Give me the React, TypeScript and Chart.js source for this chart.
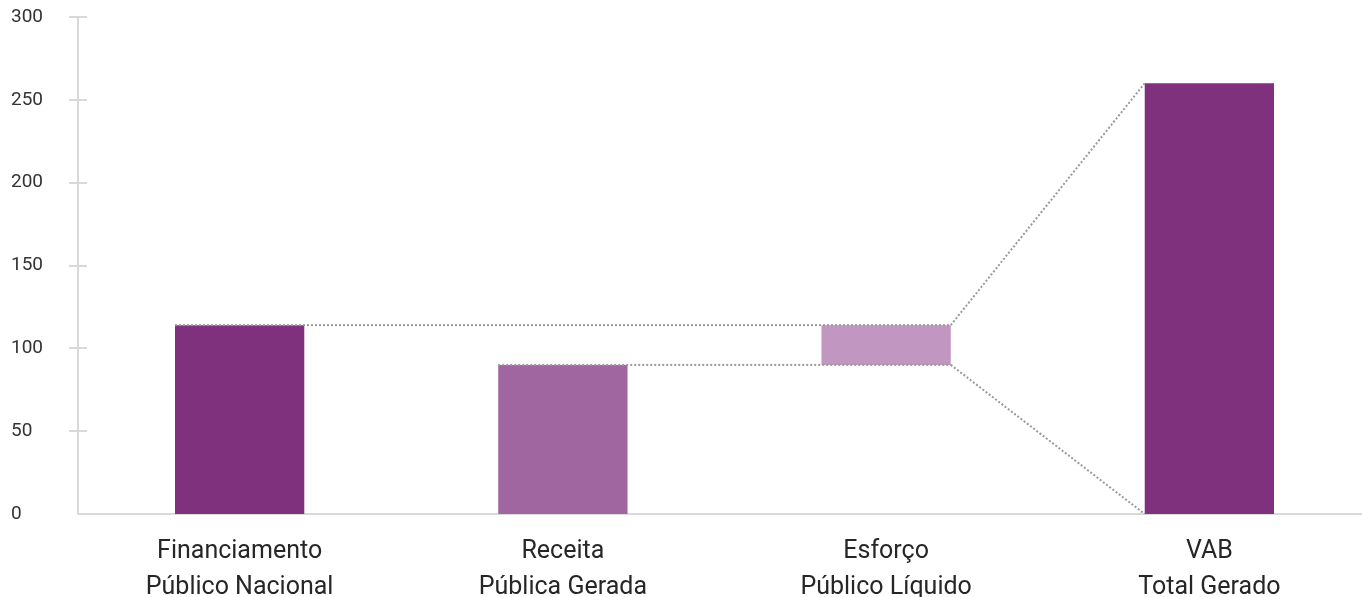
import React, { useEffect, useRef } from "react";
import { Chart, registerables } from "chart.js";

Chart.register(...registerables);

const categories: string[][] = [
  ["Financiamento", "Público Nacional"],
  ["Receita", "Pública Gerada"],
  ["Esforço", "Público Líquido"],
  ["VAB", "Total Gerado"],
];
const financiamento = 114;
const receita = 90;
const vab = 260;
const barRanges: [number, number][] = [
  [0, financiamento],
  [0, receita],
  [receita, financiamento],
  [0, vab],
];
const barColors = ["#7F317E", "#A066A0", "#C197C1", "#7F317E"];
const yTicks = { min: 0, max: 300, step: 50 };

const AXIS_COLOR = "#D9D9D9";
const FONT = "Roboto, 'Open Sans', sans-serif";

const connectorPlugin = {
  id: "connectors",
  afterDatasetsDraw(chart: any) {
    const meta = chart.getDatasetMeta(0);
    const y = chart.scales.y;
    const els = meta.data;
    if (els.length < 4) return;
    const left = (e: any) => e.x - e.width / 2;
    const right = (e: any) => e.x + e.width / 2;
    const ctx = chart.ctx;
    ctx.save();
    ctx.strokeStyle = "#9A9A9A";
    ctx.lineWidth = 2;
    ctx.setLineDash([2, 2]);
    const seg = (x1: number, y1: number, x2: number, y2: number) => {
      ctx.beginPath();
      ctx.moveTo(x1, y1);
      ctx.lineTo(x2, y2);
      ctx.stroke();
    };
    const yF = y.getPixelForValue(financiamento);
    const yR = y.getPixelForValue(receita);
    seg(left(els[0]), yF, right(els[2]), yF);
    seg(left(els[1]), yR, right(els[2]), yR);
    seg(right(els[2]), yF, left(els[3]), y.getPixelForValue(vab));
    seg(right(els[2]), yR, left(els[3]), y.getPixelForValue(0));
    ctx.restore();
  },
  afterDraw(chart: any) {
    const y = chart.scales.y;
    const ctx = chart.ctx;
    const x0 = chart.chartArea.left;
    ctx.save();
    ctx.strokeStyle = AXIS_COLOR;
    ctx.lineWidth = 2;
    y.ticks.forEach((t: any) => {
      const py = Math.round(y.getPixelForValue(t.value));
      if (t.value === yTicks.min) return;
      ctx.beginPath();
      ctx.moveTo(x0 - 9, py);
      ctx.lineTo(x0 + 9, py);
      ctx.stroke();
    });
    ctx.restore();
  },
};

export default function App() {
  const ref = useRef<HTMLCanvasElement>(null);
  useEffect(() => {
    if (!ref.current) return;
    const chart = new Chart(ref.current, {
      type: "bar",
      data: {
        labels: categories,
        datasets: [
          {
            data: barRanges as any,
            backgroundColor: barColors,
            borderWidth: 0,
            barPercentage: 1,
            categoryPercentage: 0.4,
          },
        ],
      },
      options: {
        responsive: false,
        animation: false,
        devicePixelRatio: 1,
        layout: { padding: { top: 17, left: 11, right: 0, bottom: 0 } },
        plugins: { legend: { display: false }, tooltip: { enabled: false } },
        scales: {
          x: {
            grid: { display: false, drawTicks: false },
            border: { display: true, color: AXIS_COLOR, width: 2 },
            ticks: {
              color: "#262626",
              padding: 19,
              font: { family: FONT, size: 25, lineHeight: 36.5 / 25 },
              maxRotation: 0,
              autoSkip: false,
            },
            afterFit(scale: any) {
              scale.height = 83;
            },
          },
          y: {
            min: yTicks.min,
            max: yTicks.max,
            grid: { display: false, drawTicks: false },
            border: { display: true, color: AXIS_COLOR, width: 2 },
            ticks: {
              stepSize: yTicks.step,
              color: "#333333",
              crossAlign: "far",
              padding: 10,
              font: { family: FONT, size: 19 },
            },
            afterFit(scale: any) {
              scale.width = 67;
              scale.paddingTop = 0;
              scale.paddingBottom = 0;
            },
          },
        },
      },
      plugins: [connectorPlugin],
    });
    return () => chart.destroy();
  }, []);
  return (
    <div
      style={{
        position: "fixed",
        left: 0,
        top: 0,
        width: 1362,
        height: 597,
        overflow: "hidden",
        background: "#fff",
      }}
    >
      <canvas ref={ref} width={1371} height={597} style={{ display: "block" }} />
    </div>
  );
}
